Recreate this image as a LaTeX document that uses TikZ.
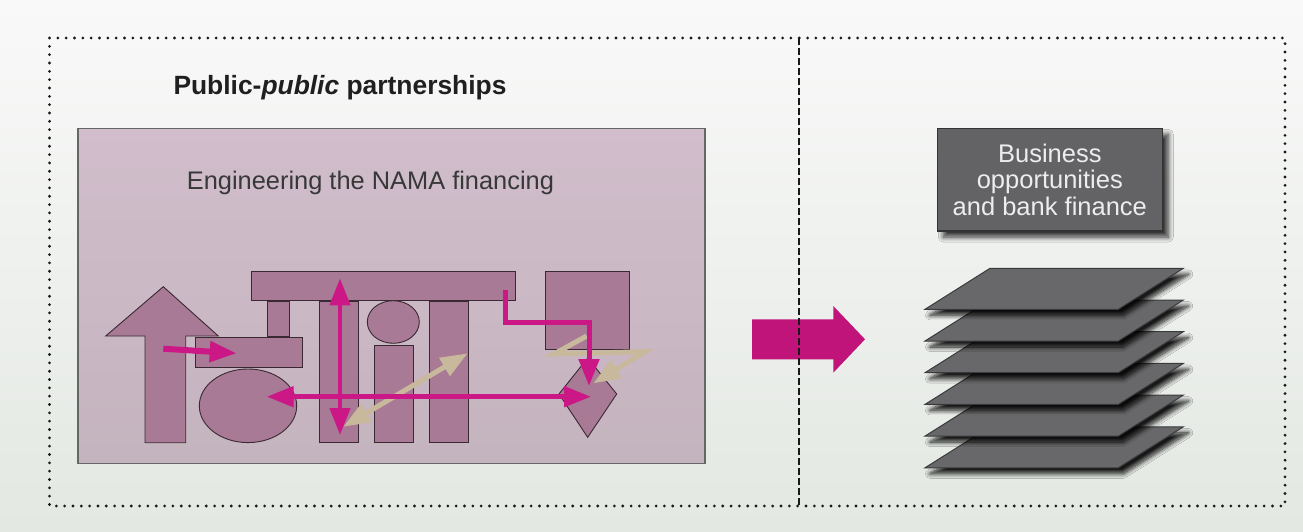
\documentclass[tikz,border=0pt]{standalone}
\usepackage{fontspec}
\setmainfont{Liberation Sans}
\usetikzlibrary{arrows.meta,shadows.blur}
\definecolor{mag}{RGB}{204,24,134}
\definecolor{bigmag}{RGB}{192,20,122}
\definecolor{mauve}{RGB}{168,122,150}
\definecolor{mauveline}{RGB}{58,40,50}
\definecolor{tanarrow}{RGB}{200,184,156}
\definecolor{layerfill}{RGB}{104,104,106}
\definecolor{layerline}{RGB}{58,58,60}
\definecolor{bizfill}{RGB}{99,99,101}
\definecolor{bgtop}{RGB}{249,249,249}
\definecolor{bgbot}{RGB}{227,232,226}
\definecolor{paneltop}{RGB}{209,189,203}
\definecolor{panelbot}{RGB}{196,180,190}
\begin{document}
\begin{tikzpicture}[x=1pt,y=-1pt,
  block/.style={fill=mauve,draw=mauveline,line width=0.9pt},
  magline/.style={draw=mag,line width=5pt},
  magtip/.style={-{Triangle[width=20pt,length=27pt]}},
  magboth/.style={{Triangle[width=20pt,length=27pt]}-{Triangle[width=20pt,length=27pt]}},
  tanline/.style={draw=tanarrow,line width=5pt},
  layer/.style={fill=layerfill,draw=layerline,line width=1pt,
    blur shadow={shadow xshift=5pt,shadow yshift=-6pt,shadow blur radius=4.5pt,shadow opacity=90,shadow blur steps=10}},
  dotbox/.style={draw=black!90,line width=3.1pt,line cap=round,dash pattern=on 0pt off 8.33pt},
  divider/.style={draw=black!90,line width=2.3pt,dash pattern=on 6.7pt off 3.3pt}
]
\useasboundingbox (0,0) rectangle (1303,532);
% background
\shade[top color=bgtop,bottom color=bgbot] (0,0) rectangle (1303,532);
% outer dotted frame
\draw[dotbox] (49.5,38) rectangle (1285,506);

% panel
\shade[top color=paneltop,bottom color=panelbot] (78,128.7) rectangle (705,463.7);
\draw[draw=black!60,line width=1.5pt] (78,128.7) rectangle (705,463.7);

\node[anchor=base west,inner sep=0pt,text=black!88,font=\fontsize{26.4pt}{30pt}\selectfont\bfseries] (title) at (173.3,95) {Public-\textit{public} partnerships};
\node[anchor=base west,inner sep=0pt,text=black!78,font=\fontsize{25.4pt}{30pt}\selectfont] (eng) at (186.7,189.3) {Engineering the NAMA financing};

% blocks
\draw[block] (163.3,286.7) -- (218.3,336) -- (185.7,336) -- (185.7,442.7) -- (145,442.7) -- (145,336) -- (105.7,336) -- cycle;
\draw[block] (251.7,271.7) rectangle (515.3,300.7);
\draw[block] (267,301) rectangle (289.3,336.7);
\draw[block] (195.7,337.3) rectangle (302.7,367.7);
\draw[block] (248,405.8) ellipse [x radius=48.7pt,y radius=36.8pt];
\draw[block] (319.3,301) rectangle (358.3,442.7);
\draw[block] (393.3,322) ellipse [x radius=26pt,y radius=21.3pt];
\draw[block] (374.3,345) rectangle (413.3,442.7);
\draw[block] (429.3,301) rectangle (468.3,442.7);
\draw[block] (545.3,271.7) rectangle (629.3,349.3);
\draw[block] (587.7,358) -- (616.7,394) -- (587.7,437.3) -- (559,394) -- cycle;

% arrow end points
\coordinate (t1a) at (343.3,426.7);
\coordinate (t1b) at (467.7,353.3);
\coordinate (t2a) at (586.7,336);
\coordinate (t2b) at (554,354);
\coordinate (t2c) at (645,351.7);
\coordinate (t2d) at (593.3,383.3);
\coordinate (m1a) at (163.3,348.7);
\coordinate (m1b) at (236.7,353.3);
\coordinate (m2a) at (340,278.3);
\coordinate (m2b) at (340,435);
\coordinate (m3a) at (266.7,396.7);
\coordinate (m3b) at (591,396.7);
\coordinate (m4a) at (505,290);
\coordinate (m4b) at (505,322.7);
\coordinate (m4c) at (589,322.7);
\coordinate (m4d) at (589,386);

% tan arrows
\draw[tanline,magboth] (t1a) -- (t1b);
\draw[tanline,magtip,line join=miter] (t2a) -- (t2b) -- (t2c) -- (t2d);

% magenta arrows
\draw[magline,line width=6pt,magtip] (m1a) -- (m1b);
\draw[magline,line width=4.5pt,magboth] (m2a) -- (m2b);
\draw[magline,line width=5pt,magboth] (m3a) -- (m3b);
\draw[magline,line width=5pt,magtip,line join=miter] (m4a) -- (m4b) -- (m4c) -- (m4d);

% big arrow
\fill[bigmag] (752,319.3) -- (833.3,319.3) -- (833.3,306) -- (865,339.3) -- (833.3,372.7) -- (833.3,359.3) -- (752,359.3) -- cycle;

% divider
\coordinate (dtop) at (798.7,38);
\coordinate (dbot) at (798.7,506);
\draw[divider] (dtop) -- (dbot);

% layers
\foreach \i in {5,4,3,2,1,0} {
  \draw[layer] (925,{309.3+31.7*\i}) -- (1118.3,{309.3+31.7*\i}) -- (1183.3,{268.3+31.7*\i}) -- (990,{268.3+31.7*\i}) -- cycle;
}

% business box
\node[fill=bizfill,draw=black!80,line width=1.2pt,minimum width=225pt,minimum height=102.7pt,
  blur shadow={shadow xshift=6pt,shadow yshift=-6pt,shadow blur radius=5pt,shadow opacity=80,shadow blur steps=10},
  align=center,text=white!93!black,font=\fontsize{25.5pt}{26.5pt}\selectfont] (biz) at (1049.8,179.7)
  {Business\\opportunities\\and bank finance};
\end{tikzpicture}
\end{document}
